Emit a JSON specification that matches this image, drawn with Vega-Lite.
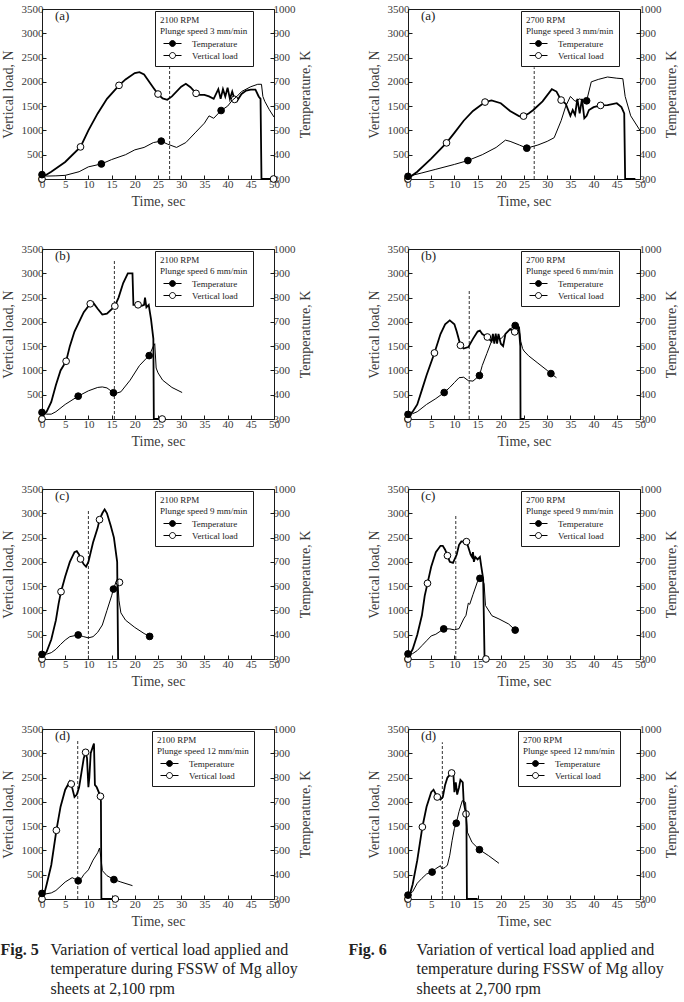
{
"$schema": "https://vega.github.io/schema/vega-lite/v6.json",
"padding": {"top": 2, "left": 0, "right": 0, "bottom": 0},
"datasets": {
"p5a": [
{"k":"D","s":"","t":27.5,"v":0,"v2":2350},
{"k":"L","s":"Vertical load","t":0,"v":0},{"k":"L","s":"Vertical load","t":0.3,"v":50},{"k":"L","s":"Vertical load","t":2,"v":150},{"k":"L","s":"Vertical load","t":5,"v":350},{"k":"L","s":"Vertical load","t":8.3,"v":661},{"k":"L","s":"Vertical load","t":10,"v":1000},{"k":"L","s":"Vertical load","t":12,"v":1350},{"k":"L","s":"Vertical load","t":14,"v":1650},{"k":"L","s":"Vertical load","t":16.6,"v":1928},{"k":"L","s":"Vertical load","t":18,"v":2050},{"k":"L","s":"Vertical load","t":20,"v":2180},{"k":"L","s":"Vertical load","t":21,"v":2200},{"k":"L","s":"Vertical load","t":22,"v":2150},{"k":"L","s":"Vertical load","t":24,"v":1880},{"k":"L","s":"Vertical load","t":25,"v":1749},{"k":"L","s":"Vertical load","t":26,"v":1660},{"k":"L","s":"Vertical load","t":27,"v":1630},{"k":"L","s":"Vertical load","t":28,"v":1700},{"k":"L","s":"Vertical load","t":30,"v":1900},{"k":"L","s":"Vertical load","t":31,"v":1960},{"k":"L","s":"Vertical load","t":32,"v":1890},{"k":"L","s":"Vertical load","t":33.2,"v":1763},{"k":"L","s":"Vertical load","t":34,"v":1730},{"k":"L","s":"Vertical load","t":35,"v":1730},{"k":"L","s":"Vertical load","t":36,"v":1700},{"k":"L","s":"Vertical load","t":37,"v":1650},{"k":"L","s":"Vertical load","t":38,"v":1850},{"k":"L","s":"Vertical load","t":38.5,"v":1650},{"k":"L","s":"Vertical load","t":39,"v":1850},{"k":"L","s":"Vertical load","t":39.5,"v":1700},{"k":"L","s":"Vertical load","t":40,"v":1880},{"k":"L","s":"Vertical load","t":40.5,"v":1650},{"k":"L","s":"Vertical load","t":41,"v":1800},{"k":"L","s":"Vertical load","t":41.5,"v":1639},{"k":"L","s":"Vertical load","t":42,"v":1600},{"k":"L","s":"Vertical load","t":43,"v":1750},{"k":"L","s":"Vertical load","t":44,"v":1820},{"k":"L","s":"Vertical load","t":45,"v":1840},{"k":"L","s":"Vertical load","t":46,"v":1840},{"k":"L","s":"Vertical load","t":46.7,"v":1700},{"k":"L","s":"Vertical load","t":47.1,"v":1650},{"k":"L","s":"Vertical load","t":47.3,"v":0},{"k":"L","s":"Vertical load","t":49.9,"v":0},
{"k":"P","s":"Vertical load","t":0,"v":0},{"k":"P","s":"Vertical load","t":8.3,"v":661},{"k":"P","s":"Vertical load","t":16.6,"v":1928},{"k":"P","s":"Vertical load","t":25,"v":1749},{"k":"P","s":"Vertical load","t":33.2,"v":1763},{"k":"P","s":"Vertical load","t":41.5,"v":1639},{"k":"P","s":"Vertical load","t":49.9,"v":0},
{"k":"L","s":"Temperature","t":0,"v":318},{"k":"L","s":"Temperature","t":1,"v":312},{"k":"L","s":"Temperature","t":3,"v":313},{"k":"L","s":"Temperature","t":5,"v":315},{"k":"L","s":"Temperature","t":8,"v":330},{"k":"L","s":"Temperature","t":10,"v":350},{"k":"L","s":"Temperature","t":12.8,"v":362},{"k":"L","s":"Temperature","t":15,"v":380},{"k":"L","s":"Temperature","t":18,"v":400},{"k":"L","s":"Temperature","t":20,"v":420},{"k":"L","s":"Temperature","t":22,"v":430},{"k":"L","s":"Temperature","t":24,"v":450},{"k":"L","s":"Temperature","t":25.7,"v":456},{"k":"L","s":"Temperature","t":27,"v":444},{"k":"L","s":"Temperature","t":29,"v":430},{"k":"L","s":"Temperature","t":31,"v":450},{"k":"L","s":"Temperature","t":33,"v":490},{"k":"L","s":"Temperature","t":35,"v":530},{"k":"L","s":"Temperature","t":36,"v":560},{"k":"L","s":"Temperature","t":37,"v":550},{"k":"L","s":"Temperature","t":38.6,"v":582},{"k":"L","s":"Temperature","t":40,"v":600},{"k":"L","s":"Temperature","t":41,"v":624},{"k":"L","s":"Temperature","t":42,"v":640},{"k":"L","s":"Temperature","t":43,"v":660},{"k":"L","s":"Temperature","t":45,"v":680},{"k":"L","s":"Temperature","t":46.5,"v":690},{"k":"L","s":"Temperature","t":47.3,"v":690},{"k":"L","s":"Temperature","t":47.6,"v":640},{"k":"L","s":"Temperature","t":48,"v":620},{"k":"L","s":"Temperature","t":49,"v":585},{"k":"L","s":"Temperature","t":50,"v":555},
{"k":"P","s":"Temperature","t":0,"v":318},{"k":"P","s":"Temperature","t":12.8,"v":362},{"k":"P","s":"Temperature","t":25.7,"v":456},{"k":"P","s":"Temperature","t":38.6,"v":582}
],
"p6a": [
{"k":"D","s":"","t":27.2,"v":0,"v2":2300},
{"k":"L","s":"Vertical load","t":0,"v":0},{"k":"L","s":"Vertical load","t":0.3,"v":30},{"k":"L","s":"Vertical load","t":2,"v":150},{"k":"L","s":"Vertical load","t":5,"v":420},{"k":"L","s":"Vertical load","t":8.3,"v":744},{"k":"L","s":"Vertical load","t":10,"v":950},{"k":"L","s":"Vertical load","t":12,"v":1200},{"k":"L","s":"Vertical load","t":14,"v":1400},{"k":"L","s":"Vertical load","t":16.6,"v":1584},{"k":"L","s":"Vertical load","t":18,"v":1620},{"k":"L","s":"Vertical load","t":20,"v":1560},{"k":"L","s":"Vertical load","t":22,"v":1400},{"k":"L","s":"Vertical load","t":24,"v":1290},{"k":"L","s":"Vertical load","t":24.9,"v":1295},{"k":"L","s":"Vertical load","t":26,"v":1350},{"k":"L","s":"Vertical load","t":27,"v":1420},{"k":"L","s":"Vertical load","t":29,"v":1600},{"k":"L","s":"Vertical load","t":31,"v":1850},{"k":"L","s":"Vertical load","t":32,"v":1800},{"k":"L","s":"Vertical load","t":33,"v":1625},{"k":"L","s":"Vertical load","t":34,"v":1550},{"k":"L","s":"Vertical load","t":35,"v":1300},{"k":"L","s":"Vertical load","t":35.5,"v":1420},{"k":"L","s":"Vertical load","t":36,"v":1320},{"k":"L","s":"Vertical load","t":36.5,"v":1650},{"k":"L","s":"Vertical load","t":37,"v":1350},{"k":"L","s":"Vertical load","t":37.5,"v":1650},{"k":"L","s":"Vertical load","t":38,"v":1250},{"k":"L","s":"Vertical load","t":38.5,"v":1300},{"k":"L","s":"Vertical load","t":39,"v":1420},{"k":"L","s":"Vertical load","t":40,"v":1480},{"k":"L","s":"Vertical load","t":41.5,"v":1515},{"k":"L","s":"Vertical load","t":43,"v":1520},{"k":"L","s":"Vertical load","t":45,"v":1560},{"k":"L","s":"Vertical load","t":46,"v":1480},{"k":"L","s":"Vertical load","t":46.6,"v":1350},{"k":"L","s":"Vertical load","t":46.8,"v":0},{"k":"L","s":"Vertical load","t":49,"v":0},
{"k":"P","s":"Vertical load","t":0,"v":0},{"k":"P","s":"Vertical load","t":8.3,"v":744},{"k":"P","s":"Vertical load","t":16.6,"v":1584},{"k":"P","s":"Vertical load","t":24.9,"v":1295},{"k":"P","s":"Vertical load","t":33,"v":1625},{"k":"P","s":"Vertical load","t":41.5,"v":1515},
{"k":"L","s":"Temperature","t":0,"v":311},{"k":"L","s":"Temperature","t":3,"v":325},{"k":"L","s":"Temperature","t":6,"v":340},{"k":"L","s":"Temperature","t":10,"v":360},{"k":"L","s":"Temperature","t":12.9,"v":376},{"k":"L","s":"Temperature","t":16,"v":400},{"k":"L","s":"Temperature","t":19,"v":430},{"k":"L","s":"Temperature","t":21,"v":460},{"k":"L","s":"Temperature","t":22,"v":455},{"k":"L","s":"Temperature","t":24,"v":440},{"k":"L","s":"Temperature","t":25.6,"v":427},{"k":"L","s":"Temperature","t":28,"v":440},{"k":"L","s":"Temperature","t":30,"v":455},{"k":"L","s":"Temperature","t":31.5,"v":470},{"k":"L","s":"Temperature","t":33,"v":540},{"k":"L","s":"Temperature","t":34,"v":600},{"k":"L","s":"Temperature","t":35,"v":640},{"k":"L","s":"Temperature","t":36,"v":620},{"k":"L","s":"Temperature","t":37,"v":630},{"k":"L","s":"Temperature","t":38,"v":620},{"k":"L","s":"Temperature","t":38.5,"v":622},{"k":"L","s":"Temperature","t":39.5,"v":700},{"k":"L","s":"Temperature","t":41,"v":710},{"k":"L","s":"Temperature","t":43,"v":720},{"k":"L","s":"Temperature","t":45,"v":715},{"k":"L","s":"Temperature","t":46.3,"v":713},{"k":"L","s":"Temperature","t":46.8,"v":640},{"k":"L","s":"Temperature","t":48,"v":560},{"k":"L","s":"Temperature","t":50,"v":500},
{"k":"P","s":"Temperature","t":0,"v":311},{"k":"P","s":"Temperature","t":12.9,"v":376},{"k":"P","s":"Temperature","t":25.6,"v":427},{"k":"P","s":"Temperature","t":38.5,"v":622}
],
"p5b": [
{"k":"D","s":"","t":15.6,"v":0,"v2":3294},
{"k":"L","s":"Vertical load","t":0,"v":0},{"k":"L","s":"Vertical load","t":0.3,"v":80},{"k":"L","s":"Vertical load","t":1,"v":150},{"k":"L","s":"Vertical load","t":2,"v":350},{"k":"L","s":"Vertical load","t":3,"v":700},{"k":"L","s":"Vertical load","t":4,"v":1000},{"k":"L","s":"Vertical load","t":5.2,"v":1189},{"k":"L","s":"Vertical load","t":6,"v":1500},{"k":"L","s":"Vertical load","t":7,"v":1800},{"k":"L","s":"Vertical load","t":8,"v":2000},{"k":"L","s":"Vertical load","t":9,"v":2200},{"k":"L","s":"Vertical load","t":10.4,"v":2372},{"k":"L","s":"Vertical load","t":11,"v":2400},{"k":"L","s":"Vertical load","t":12,"v":2270},{"k":"L","s":"Vertical load","t":13,"v":2150},{"k":"L","s":"Vertical load","t":14,"v":2170},{"k":"L","s":"Vertical load","t":15.7,"v":2324},{"k":"L","s":"Vertical load","t":16.5,"v":2500},{"k":"L","s":"Vertical load","t":17.5,"v":2800},{"k":"L","s":"Vertical load","t":18.5,"v":3000},{"k":"L","s":"Vertical load","t":19.5,"v":3000},{"k":"L","s":"Vertical load","t":19.7,"v":2350},{"k":"L","s":"Vertical load","t":20.7,"v":2351},{"k":"L","s":"Vertical load","t":21.5,"v":2330},{"k":"L","s":"Vertical load","t":22,"v":2350},{"k":"L","s":"Vertical load","t":22.2,"v":2500},{"k":"L","s":"Vertical load","t":22.5,"v":2300},{"k":"L","s":"Vertical load","t":23,"v":2350},{"k":"L","s":"Vertical load","t":23.5,"v":2050},{"k":"L","s":"Vertical load","t":24,"v":1650},{"k":"L","s":"Vertical load","t":24.1,"v":0},{"k":"L","s":"Vertical load","t":25.9,"v":0},
{"k":"P","s":"Vertical load","t":0,"v":0},{"k":"P","s":"Vertical load","t":5.2,"v":1189},{"k":"P","s":"Vertical load","t":10.4,"v":2372},{"k":"P","s":"Vertical load","t":15.7,"v":2324},{"k":"P","s":"Vertical load","t":20.7,"v":2351},{"k":"P","s":"Vertical load","t":25.9,"v":0},
{"k":"L","s":"Temperature","t":0,"v":327},{"k":"L","s":"Temperature","t":1,"v":320},{"k":"L","s":"Temperature","t":2,"v":320},{"k":"L","s":"Temperature","t":3,"v":330},{"k":"L","s":"Temperature","t":5,"v":360},{"k":"L","s":"Temperature","t":7.8,"v":394},{"k":"L","s":"Temperature","t":10,"v":416},{"k":"L","s":"Temperature","t":12,"v":430},{"k":"L","s":"Temperature","t":13,"v":432},{"k":"L","s":"Temperature","t":14,"v":428},{"k":"L","s":"Temperature","t":15.4,"v":408},{"k":"L","s":"Temperature","t":16,"v":406},{"k":"L","s":"Temperature","t":17,"v":412},{"k":"L","s":"Temperature","t":19,"v":460},{"k":"L","s":"Temperature","t":21,"v":520},{"k":"L","s":"Temperature","t":22.5,"v":550},{"k":"L","s":"Temperature","t":23.1,"v":561},{"k":"L","s":"Temperature","t":24,"v":600},{"k":"L","s":"Temperature","t":24.3,"v":610},{"k":"L","s":"Temperature","t":24.6,"v":510},{"k":"L","s":"Temperature","t":25,"v":490},{"k":"L","s":"Temperature","t":26,"v":460},{"k":"L","s":"Temperature","t":28,"v":430},{"k":"L","s":"Temperature","t":30.2,"v":409},
{"k":"P","s":"Temperature","t":0,"v":327},{"k":"P","s":"Temperature","t":7.8,"v":394},{"k":"P","s":"Temperature","t":15.4,"v":408},{"k":"P","s":"Temperature","t":23.1,"v":561}
],
"p6b": [
{"k":"D","s":"","t":13.2,"v":0,"v2":2645},
{"k":"L","s":"Vertical load","t":0,"v":0},{"k":"L","s":"Vertical load","t":0.3,"v":80},{"k":"L","s":"Vertical load","t":1,"v":150},{"k":"L","s":"Vertical load","t":2,"v":300},{"k":"L","s":"Vertical load","t":3,"v":600},{"k":"L","s":"Vertical load","t":4,"v":900},{"k":"L","s":"Vertical load","t":5.7,"v":1360},{"k":"L","s":"Vertical load","t":7,"v":1750},{"k":"L","s":"Vertical load","t":8,"v":1950},{"k":"L","s":"Vertical load","t":9,"v":2030},{"k":"L","s":"Vertical load","t":10,"v":1950},{"k":"L","s":"Vertical load","t":10.5,"v":1800},{"k":"L","s":"Vertical load","t":11.3,"v":1517},{"k":"L","s":"Vertical load","t":12,"v":1450},{"k":"L","s":"Vertical load","t":13,"v":1480},{"k":"L","s":"Vertical load","t":14,"v":1650},{"k":"L","s":"Vertical load","t":15,"v":1800},{"k":"L","s":"Vertical load","t":15.5,"v":1820},{"k":"L","s":"Vertical load","t":16,"v":1750},{"k":"L","s":"Vertical load","t":17.1,"v":1688},{"k":"L","s":"Vertical load","t":18,"v":1600},{"k":"L","s":"Vertical load","t":18.3,"v":1750},{"k":"L","s":"Vertical load","t":18.6,"v":1550},{"k":"L","s":"Vertical load","t":18.9,"v":1760},{"k":"L","s":"Vertical load","t":19.2,"v":1550},{"k":"L","s":"Vertical load","t":19.5,"v":1750},{"k":"L","s":"Vertical load","t":20,"v":1550},{"k":"L","s":"Vertical load","t":20.5,"v":1500},{"k":"L","s":"Vertical load","t":21,"v":1750},{"k":"L","s":"Vertical load","t":22,"v":1850},{"k":"L","s":"Vertical load","t":23,"v":1794},{"k":"L","s":"Vertical load","t":23.7,"v":1900},{"k":"L","s":"Vertical load","t":24,"v":1750},{"k":"L","s":"Vertical load","t":24.2,"v":1500},{"k":"L","s":"Vertical load","t":24.25,"v":0},{"k":"L","s":"Vertical load","t":25,"v":0},
{"k":"P","s":"Vertical load","t":0,"v":0},{"k":"P","s":"Vertical load","t":5.7,"v":1360},{"k":"P","s":"Vertical load","t":11.3,"v":1517},{"k":"P","s":"Vertical load","t":17.1,"v":1688},{"k":"P","s":"Vertical load","t":23,"v":1794},
{"k":"L","s":"Temperature","t":0,"v":319},{"k":"L","s":"Temperature","t":1,"v":322},{"k":"L","s":"Temperature","t":2,"v":330},{"k":"L","s":"Temperature","t":4,"v":360},{"k":"L","s":"Temperature","t":6,"v":384},{"k":"L","s":"Temperature","t":7.8,"v":409},{"k":"L","s":"Temperature","t":9,"v":430},{"k":"L","s":"Temperature","t":10,"v":450},{"k":"L","s":"Temperature","t":11,"v":470},{"k":"L","s":"Temperature","t":12,"v":472},{"k":"L","s":"Temperature","t":13,"v":458},{"k":"L","s":"Temperature","t":14,"v":456},{"k":"L","s":"Temperature","t":15.4,"v":479},{"k":"L","s":"Temperature","t":16,"v":520},{"k":"L","s":"Temperature","t":17,"v":570},{"k":"L","s":"Temperature","t":18,"v":620},{"k":"L","s":"Temperature","t":19,"v":640},{"k":"L","s":"Temperature","t":20,"v":630},{"k":"L","s":"Temperature","t":21,"v":650},{"k":"L","s":"Temperature","t":22,"v":670},{"k":"L","s":"Temperature","t":23.1,"v":685},{"k":"L","s":"Temperature","t":24,"v":680},{"k":"L","s":"Temperature","t":24.3,"v":620},{"k":"L","s":"Temperature","t":24.7,"v":590},{"k":"L","s":"Temperature","t":25,"v":580},{"k":"L","s":"Temperature","t":26,"v":560},{"k":"L","s":"Temperature","t":28,"v":530},{"k":"L","s":"Temperature","t":30,"v":500},{"k":"L","s":"Temperature","t":30.8,"v":487},{"k":"L","s":"Temperature","t":32,"v":470},
{"k":"P","s":"Temperature","t":0,"v":319},{"k":"P","s":"Temperature","t":7.8,"v":409},{"k":"P","s":"Temperature","t":15.4,"v":479},{"k":"P","s":"Temperature","t":23.1,"v":685},{"k":"P","s":"Temperature","t":30.8,"v":487}
],
"p5c": [
{"k":"D","s":"","t":10,"v":0,"v2":3054},
{"k":"L","s":"Vertical load","t":0,"v":0},{"k":"L","s":"Vertical load","t":0.3,"v":60},{"k":"L","s":"Vertical load","t":1,"v":150},{"k":"L","s":"Vertical load","t":2,"v":400},{"k":"L","s":"Vertical load","t":3,"v":800},{"k":"L","s":"Vertical load","t":3.6,"v":1150},{"k":"L","s":"Vertical load","t":4.1,"v":1386},{"k":"L","s":"Vertical load","t":5,"v":1700},{"k":"L","s":"Vertical load","t":6,"v":2000},{"k":"L","s":"Vertical load","t":7,"v":2200},{"k":"L","s":"Vertical load","t":7.5,"v":2220},{"k":"L","s":"Vertical load","t":8,"v":2150},{"k":"L","s":"Vertical load","t":8.3,"v":2059},{"k":"L","s":"Vertical load","t":9,"v":1950},{"k":"L","s":"Vertical load","t":9.5,"v":1900},{"k":"L","s":"Vertical load","t":10,"v":2000},{"k":"L","s":"Vertical load","t":11,"v":2400},{"k":"L","s":"Vertical load","t":12,"v":2700},{"k":"L","s":"Vertical load","t":12.4,"v":2869},{"k":"L","s":"Vertical load","t":13,"v":3000},{"k":"L","s":"Vertical load","t":13.5,"v":3080},{"k":"L","s":"Vertical load","t":14,"v":3000},{"k":"L","s":"Vertical load","t":14.8,"v":2750},{"k":"L","s":"Vertical load","t":15.5,"v":2500},{"k":"L","s":"Vertical load","t":16.2,"v":2000},{"k":"L","s":"Vertical load","t":16.4,"v":0},
{"k":"P","s":"Vertical load","t":0,"v":0},{"k":"P","s":"Vertical load","t":4.1,"v":1386},{"k":"P","s":"Vertical load","t":8.3,"v":2059},{"k":"P","s":"Vertical load","t":12.4,"v":2869},{"k":"P","s":"Vertical load","t":16.7,"v":1578},
{"k":"L","s":"Temperature","t":0,"v":319},{"k":"L","s":"Temperature","t":1,"v":320},{"k":"L","s":"Temperature","t":2,"v":326},{"k":"L","s":"Temperature","t":3,"v":340},{"k":"L","s":"Temperature","t":4,"v":360},{"k":"L","s":"Temperature","t":5,"v":378},{"k":"L","s":"Temperature","t":6,"v":392},{"k":"L","s":"Temperature","t":7.8,"v":399},{"k":"L","s":"Temperature","t":9,"v":392},{"k":"L","s":"Temperature","t":10,"v":387},{"k":"L","s":"Temperature","t":11,"v":392},{"k":"L","s":"Temperature","t":12,"v":410},{"k":"L","s":"Temperature","t":13,"v":440},{"k":"L","s":"Temperature","t":14,"v":500},{"k":"L","s":"Temperature","t":15,"v":560},{"k":"L","s":"Temperature","t":15.4,"v":588},{"k":"L","s":"Temperature","t":16,"v":620},{"k":"L","s":"Temperature","t":16.3,"v":630},{"k":"L","s":"Temperature","t":16.6,"v":540},{"k":"L","s":"Temperature","t":17,"v":490},{"k":"L","s":"Temperature","t":18,"v":460},{"k":"L","s":"Temperature","t":20,"v":430},{"k":"L","s":"Temperature","t":22,"v":405},{"k":"L","s":"Temperature","t":23.2,"v":393},
{"k":"P","s":"Temperature","t":0,"v":319},{"k":"P","s":"Temperature","t":7.8,"v":399},{"k":"P","s":"Temperature","t":15.4,"v":588},{"k":"P","s":"Temperature","t":23.2,"v":393}
],
"p6c": [
{"k":"D","s":"","t":10.3,"v":0,"v2":2951},
{"k":"L","s":"Vertical load","t":0,"v":0},{"k":"L","s":"Vertical load","t":0.3,"v":80},{"k":"L","s":"Vertical load","t":1,"v":200},{"k":"L","s":"Vertical load","t":2,"v":500},{"k":"L","s":"Vertical load","t":3,"v":900},{"k":"L","s":"Vertical load","t":3.6,"v":1300},{"k":"L","s":"Vertical load","t":4.2,"v":1558},{"k":"L","s":"Vertical load","t":5,"v":1900},{"k":"L","s":"Vertical load","t":6,"v":2200},{"k":"L","s":"Vertical load","t":7,"v":2330},{"k":"L","s":"Vertical load","t":7.5,"v":2330},{"k":"L","s":"Vertical load","t":8,"v":2250},{"k":"L","s":"Vertical load","t":8.5,"v":2128},{"k":"L","s":"Vertical load","t":9,"v":2000},{"k":"L","s":"Vertical load","t":9.7,"v":1980},{"k":"L","s":"Vertical load","t":10.5,"v":2150},{"k":"L","s":"Vertical load","t":11,"v":2350},{"k":"L","s":"Vertical load","t":11.5,"v":2420},{"k":"L","s":"Vertical load","t":12.6,"v":2416},{"k":"L","s":"Vertical load","t":13,"v":2300},{"k":"L","s":"Vertical load","t":13.5,"v":2150},{"k":"L","s":"Vertical load","t":13.8,"v":2100},{"k":"L","s":"Vertical load","t":14,"v":2200},{"k":"L","s":"Vertical load","t":14.2,"v":2000},{"k":"L","s":"Vertical load","t":14.5,"v":2100},{"k":"L","s":"Vertical load","t":15,"v":2050},{"k":"L","s":"Vertical load","t":15.5,"v":2100},{"k":"L","s":"Vertical load","t":15.8,"v":1900},{"k":"L","s":"Vertical load","t":16.2,"v":1650},{"k":"L","s":"Vertical load","t":16.5,"v":0},{"k":"L","s":"Vertical load","t":16.8,"v":0},
{"k":"P","s":"Vertical load","t":0,"v":0},{"k":"P","s":"Vertical load","t":4.2,"v":1558},{"k":"P","s":"Vertical load","t":8.5,"v":2128},{"k":"P","s":"Vertical load","t":12.6,"v":2416},{"k":"P","s":"Vertical load","t":16.8,"v":0},
{"k":"L","s":"Temperature","t":0,"v":321},{"k":"L","s":"Temperature","t":1,"v":322},{"k":"L","s":"Temperature","t":2,"v":335},{"k":"L","s":"Temperature","t":3,"v":355},{"k":"L","s":"Temperature","t":4,"v":375},{"k":"L","s":"Temperature","t":5,"v":395},{"k":"L","s":"Temperature","t":6,"v":402},{"k":"L","s":"Temperature","t":7.7,"v":424},{"k":"L","s":"Temperature","t":9,"v":424},{"k":"L","s":"Temperature","t":10,"v":420},{"k":"L","s":"Temperature","t":11,"v":425},{"k":"L","s":"Temperature","t":12,"v":465},{"k":"L","s":"Temperature","t":12.5,"v":480},{"k":"L","s":"Temperature","t":13,"v":530},{"k":"L","s":"Temperature","t":13.3,"v":525},{"k":"L","s":"Temperature","t":14,"v":565},{"k":"L","s":"Temperature","t":15,"v":620},{"k":"L","s":"Temperature","t":15.5,"v":632},{"k":"L","s":"Temperature","t":16,"v":630},{"k":"L","s":"Temperature","t":16.4,"v":610},{"k":"L","s":"Temperature","t":16.7,"v":520},{"k":"L","s":"Temperature","t":18.1,"v":478},{"k":"L","s":"Temperature","t":19.6,"v":465},{"k":"L","s":"Temperature","t":21.7,"v":444},{"k":"L","s":"Temperature","t":23.1,"v":419},
{"k":"P","s":"Temperature","t":0,"v":321},{"k":"P","s":"Temperature","t":7.7,"v":424},{"k":"P","s":"Temperature","t":15.5,"v":632},{"k":"P","s":"Temperature","t":23.1,"v":419}
],
"p5d": [
{"k":"D","s":"","t":7.7,"v":0,"v2":3260},
{"k":"L","s":"Vertical load","t":0,"v":0},{"k":"L","s":"Vertical load","t":0.3,"v":80},{"k":"L","s":"Vertical load","t":0.6,"v":150},{"k":"L","s":"Vertical load","t":1,"v":300},{"k":"L","s":"Vertical load","t":2,"v":700},{"k":"L","s":"Vertical load","t":3.1,"v":1414},{"k":"L","s":"Vertical load","t":4,"v":1900},{"k":"L","s":"Vertical load","t":5,"v":2250},{"k":"L","s":"Vertical load","t":6,"v":2420},{"k":"L","s":"Vertical load","t":6.3,"v":2368},{"k":"L","s":"Vertical load","t":7,"v":2100},{"k":"L","s":"Vertical load","t":7.5,"v":2150},{"k":"L","s":"Vertical load","t":8,"v":2300},{"k":"L","s":"Vertical load","t":8.5,"v":2600},{"k":"L","s":"Vertical load","t":9,"v":2900},{"k":"L","s":"Vertical load","t":9.4,"v":3020},{"k":"L","s":"Vertical load","t":9.7,"v":2900},{"k":"L","s":"Vertical load","t":10,"v":2300},{"k":"L","s":"Vertical load","t":10.2,"v":2500},{"k":"L","s":"Vertical load","t":10.5,"v":3000},{"k":"L","s":"Vertical load","t":11,"v":3150},{"k":"L","s":"Vertical load","t":11.2,"v":3200},{"k":"L","s":"Vertical load","t":11.4,"v":2350},{"k":"L","s":"Vertical load","t":11.8,"v":2300},{"k":"L","s":"Vertical load","t":12.6,"v":2114},{"k":"L","s":"Vertical load","t":12.7,"v":2000},{"k":"L","s":"Vertical load","t":12.8,"v":0},{"k":"L","s":"Vertical load","t":15.8,"v":0},
{"k":"P","s":"Vertical load","t":0,"v":0},{"k":"P","s":"Vertical load","t":3.1,"v":1414},{"k":"P","s":"Vertical load","t":6.3,"v":2368},{"k":"P","s":"Vertical load","t":9.4,"v":3020},{"k":"P","s":"Vertical load","t":12.6,"v":2114},{"k":"P","s":"Vertical load","t":15.8,"v":0},
{"k":"L","s":"Temperature","t":0,"v":323},{"k":"L","s":"Temperature","t":0.5,"v":320},{"k":"L","s":"Temperature","t":2,"v":325},{"k":"L","s":"Temperature","t":3,"v":335},{"k":"L","s":"Temperature","t":5,"v":370},{"k":"L","s":"Temperature","t":6.5,"v":388},{"k":"L","s":"Temperature","t":7.8,"v":375},{"k":"L","s":"Temperature","t":8.5,"v":385},{"k":"L","s":"Temperature","t":9,"v":400},{"k":"L","s":"Temperature","t":10,"v":420},{"k":"L","s":"Temperature","t":11,"v":460},{"k":"L","s":"Temperature","t":12,"v":490},{"k":"L","s":"Temperature","t":12.4,"v":510},{"k":"L","s":"Temperature","t":12.7,"v":470},{"k":"L","s":"Temperature","t":13,"v":417},{"k":"L","s":"Temperature","t":14,"v":396},{"k":"L","s":"Temperature","t":15.5,"v":380},{"k":"L","s":"Temperature","t":17,"v":370},{"k":"L","s":"Temperature","t":19.5,"v":355},
{"k":"P","s":"Temperature","t":0,"v":323},{"k":"P","s":"Temperature","t":7.8,"v":375},{"k":"P","s":"Temperature","t":15.5,"v":380}
],
"p6d": [
{"k":"D","s":"","t":7.4,"v":0,"v2":3227},
{"k":"L","s":"Vertical load","t":0,"v":0},{"k":"L","s":"Vertical load","t":0.3,"v":60},{"k":"L","s":"Vertical load","t":1,"v":300},{"k":"L","s":"Vertical load","t":2,"v":800},{"k":"L","s":"Vertical load","t":3.1,"v":1483},{"k":"L","s":"Vertical load","t":4,"v":1900},{"k":"L","s":"Vertical load","t":5,"v":2200},{"k":"L","s":"Vertical load","t":5.5,"v":2250},{"k":"L","s":"Vertical load","t":6.3,"v":2100},{"k":"L","s":"Vertical load","t":7,"v":2050},{"k":"L","s":"Vertical load","t":7.5,"v":2100},{"k":"L","s":"Vertical load","t":8,"v":2350},{"k":"L","s":"Vertical load","t":8.5,"v":2500},{"k":"L","s":"Vertical load","t":9.4,"v":2595},{"k":"L","s":"Vertical load","t":9.8,"v":2550},{"k":"L","s":"Vertical load","t":10,"v":2200},{"k":"L","s":"Vertical load","t":10.3,"v":2400},{"k":"L","s":"Vertical load","t":10.6,"v":2150},{"k":"L","s":"Vertical load","t":11,"v":2300},{"k":"L","s":"Vertical load","t":11.3,"v":2450},{"k":"L","s":"Vertical load","t":11.8,"v":2400},{"k":"L","s":"Vertical load","t":12,"v":2000},{"k":"L","s":"Vertical load","t":12.5,"v":1750},{"k":"L","s":"Vertical load","t":12.6,"v":1500},{"k":"L","s":"Vertical load","t":12.7,"v":0},{"k":"L","s":"Vertical load","t":15,"v":0},
{"k":"P","s":"Vertical load","t":0,"v":0},{"k":"P","s":"Vertical load","t":3.1,"v":1483},{"k":"P","s":"Vertical load","t":6.3,"v":2100},{"k":"P","s":"Vertical load","t":9.4,"v":2595},{"k":"P","s":"Vertical load","t":12.5,"v":1750},
{"k":"L","s":"Temperature","t":0,"v":316},{"k":"L","s":"Temperature","t":1,"v":330},{"k":"L","s":"Temperature","t":2,"v":365},{"k":"L","s":"Temperature","t":3,"v":385},{"k":"L","s":"Temperature","t":4,"v":403},{"k":"L","s":"Temperature","t":5.2,"v":411},{"k":"L","s":"Temperature","t":6,"v":425},{"k":"L","s":"Temperature","t":7,"v":437},{"k":"L","s":"Temperature","t":7.3,"v":424},{"k":"L","s":"Temperature","t":8,"v":430},{"k":"L","s":"Temperature","t":8.5,"v":440},{"k":"L","s":"Temperature","t":9,"v":480},{"k":"L","s":"Temperature","t":9.5,"v":540},{"k":"L","s":"Temperature","t":10,"v":590},{"k":"L","s":"Temperature","t":10.4,"v":612},{"k":"L","s":"Temperature","t":11,"v":660},{"k":"L","s":"Temperature","t":11.7,"v":705},{"k":"L","s":"Temperature","t":12.4,"v":698},{"k":"L","s":"Temperature","t":12.8,"v":575},{"k":"L","s":"Temperature","t":13.8,"v":533},{"k":"L","s":"Temperature","t":15.4,"v":503},{"k":"L","s":"Temperature","t":17.4,"v":478},{"k":"L","s":"Temperature","t":19.6,"v":447},
{"k":"P","s":"Temperature","t":0,"v":316},{"k":"P","s":"Temperature","t":5.2,"v":411},{"k":"P","s":"Temperature","t":10.4,"v":612},{"k":"P","s":"Temperature","t":15.4,"v":503}
]
},
"hconcat": [
{
"vconcat": [
{"width":232,"height":170,"data":{"name":"p5a"},
"title":{"text":"(a)","orient":"top","anchor":"start","frame":"group","offset":-20,"dx":13,"fontSize":13},
"encoding":{"x":{"field":"t","type":"quantitative","scale":{"domain":[0,50],"nice":false},"axis":{"title":"Time, sec","values":[0,5,10,15,20,25,30,35,40,45,50],"labelFlush":false,"labelOverlap":false,"titlePadding":5}}},
"layer":[
{"encoding":{"y":{"field":"v","type":"quantitative","scale":{"domain":[0,3500],"nice":false},"axis":{"title":"Vertical load, N","format":"d","values":[0,500,1000,1500,2000,2500,3000,3500],"labelFlush":false,"labelOverlap":false,"titlePadding":6}}},
"layer":[
{"transform":[{"filter":"datum.k=='D'"}],"mark":{"type":"rule","strokeDash":[3,2],"strokeWidth":1,"color":"#333"},"encoding":{"y2":{"field":"v2"}}},
{"transform":[{"filter":"datum.k=='L' && datum.s=='Vertical load'"}],"mark":{"type":"line","color":"black","strokeWidth":1.8}},
{"transform":[{"filter":"datum.k=='P' && datum.s=='Vertical load'"}],"mark":{"type":"circle","size":45,"stroke":"black","strokeWidth":1,"opacity":1},"encoding":{"fill":{"field":"s","type":"nominal","scale":{"domain":["Temperature","Vertical load"],"range":["black","white"]},"legend":{"title":["2100 RPM","Plunge speed 3 mm/min"],"orient":"none","legendX":113,"legendY":2,"symbolType":"M-1.8,0L-0.6,0M0.6,0L1.8,0M-0.6,0A0.6,0.6,0,1,0,0.6,0A0.6,0.6,0,1,0,-0.6,0Z","symbolOpacity":1}}}}
]},
{"encoding":{"y":{"field":"v","type":"quantitative","scale":{"domain":[300,1000],"nice":false},"axis":{"title":"Temperature, K","format":"d","orient":"right","values":[300,400,500,600,700,800,900,1000],"labelFlush":false,"labelOverlap":false,"titleAngle":270,"titleBaseline":"top","titlePadding":3}}},
"layer":[
{"transform":[{"filter":"datum.k=='L' && datum.s=='Temperature'"}],"mark":{"type":"line","color":"black","strokeWidth":1}},
{"transform":[{"filter":"datum.k=='P' && datum.s=='Temperature'"}],"mark":{"type":"circle","size":45,"stroke":"black","strokeWidth":1,"opacity":1},"encoding":{"fill":{"field":"s","type":"nominal","scale":{"domain":["Temperature","Vertical load"],"range":["black","white"]},"legend":{"title":["2100 RPM","Plunge speed 3 mm/min"],"orient":"none","legendX":113,"legendY":2,"symbolType":"M-1.8,0L-0.6,0M0.6,0L1.8,0M-0.6,0A0.6,0.6,0,1,0,0.6,0A0.6,0.6,0,1,0,-0.6,0Z","symbolOpacity":1}}}}
]}
],
"resolve":{"scale":{"y":"independent"}}
},
{"width":232,"height":170,"data":{"name":"p5b"},
"title":{"text":"(b)","orient":"top","anchor":"start","frame":"group","offset":-20,"dx":13,"fontSize":13},
"encoding":{"x":{"field":"t","type":"quantitative","scale":{"domain":[0,50],"nice":false},"axis":{"title":"Time, sec","values":[0,5,10,15,20,25,30,35,40,45,50],"labelFlush":false,"labelOverlap":false,"titlePadding":5}}},
"layer":[
{"encoding":{"y":{"field":"v","type":"quantitative","scale":{"domain":[0,3500],"nice":false},"axis":{"title":"Vertical load, N","format":"d","values":[0,500,1000,1500,2000,2500,3000,3500],"labelFlush":false,"labelOverlap":false,"titlePadding":6}}},
"layer":[
{"transform":[{"filter":"datum.k=='D'"}],"mark":{"type":"rule","strokeDash":[3,2],"strokeWidth":1,"color":"#333"},"encoding":{"y2":{"field":"v2"}}},
{"transform":[{"filter":"datum.k=='L' && datum.s=='Vertical load'"}],"mark":{"type":"line","color":"black","strokeWidth":1.8}},
{"transform":[{"filter":"datum.k=='P' && datum.s=='Vertical load'"}],"mark":{"type":"circle","size":45,"stroke":"black","strokeWidth":1,"opacity":1},"encoding":{"fill":{"field":"s","type":"nominal","scale":{"domain":["Temperature","Vertical load"],"range":["black","white"]},"legend":{"title":["2100 RPM","Plunge speed 6 mm/min"],"orient":"none","legendX":113,"legendY":2,"symbolType":"M-1.8,0L-0.6,0M0.6,0L1.8,0M-0.6,0A0.6,0.6,0,1,0,0.6,0A0.6,0.6,0,1,0,-0.6,0Z","symbolOpacity":1}}}}
]},
{"encoding":{"y":{"field":"v","type":"quantitative","scale":{"domain":[300,1000],"nice":false},"axis":{"title":"Temperature, K","format":"d","orient":"right","values":[300,400,500,600,700,800,900,1000],"labelFlush":false,"labelOverlap":false,"titleAngle":270,"titleBaseline":"top","titlePadding":3}}},
"layer":[
{"transform":[{"filter":"datum.k=='L' && datum.s=='Temperature'"}],"mark":{"type":"line","color":"black","strokeWidth":1}},
{"transform":[{"filter":"datum.k=='P' && datum.s=='Temperature'"}],"mark":{"type":"circle","size":45,"stroke":"black","strokeWidth":1,"opacity":1},"encoding":{"fill":{"field":"s","type":"nominal","scale":{"domain":["Temperature","Vertical load"],"range":["black","white"]},"legend":{"title":["2100 RPM","Plunge speed 6 mm/min"],"orient":"none","legendX":113,"legendY":2,"symbolType":"M-1.8,0L-0.6,0M0.6,0L1.8,0M-0.6,0A0.6,0.6,0,1,0,0.6,0A0.6,0.6,0,1,0,-0.6,0Z","symbolOpacity":1}}}}
]}
],
"resolve":{"scale":{"y":"independent"}}
},
{"width":232,"height":170,"data":{"name":"p5c"},
"title":{"text":"(c)","orient":"top","anchor":"start","frame":"group","offset":-20,"dx":13,"fontSize":13},
"encoding":{"x":{"field":"t","type":"quantitative","scale":{"domain":[0,50],"nice":false},"axis":{"title":"Time, sec","values":[0,5,10,15,20,25,30,35,40,45,50],"labelFlush":false,"labelOverlap":false,"titlePadding":5}}},
"layer":[
{"encoding":{"y":{"field":"v","type":"quantitative","scale":{"domain":[0,3500],"nice":false},"axis":{"title":"Vertical load, N","format":"d","values":[0,500,1000,1500,2000,2500,3000,3500],"labelFlush":false,"labelOverlap":false,"titlePadding":6}}},
"layer":[
{"transform":[{"filter":"datum.k=='D'"}],"mark":{"type":"rule","strokeDash":[3,2],"strokeWidth":1,"color":"#333"},"encoding":{"y2":{"field":"v2"}}},
{"transform":[{"filter":"datum.k=='L' && datum.s=='Vertical load'"}],"mark":{"type":"line","color":"black","strokeWidth":1.8}},
{"transform":[{"filter":"datum.k=='P' && datum.s=='Vertical load'"}],"mark":{"type":"circle","size":45,"stroke":"black","strokeWidth":1,"opacity":1},"encoding":{"fill":{"field":"s","type":"nominal","scale":{"domain":["Temperature","Vertical load"],"range":["black","white"]},"legend":{"title":["2100 RPM","Plunge speed 9 mm/min"],"orient":"none","legendX":113,"legendY":2,"symbolType":"M-1.8,0L-0.6,0M0.6,0L1.8,0M-0.6,0A0.6,0.6,0,1,0,0.6,0A0.6,0.6,0,1,0,-0.6,0Z","symbolOpacity":1}}}}
]},
{"encoding":{"y":{"field":"v","type":"quantitative","scale":{"domain":[300,1000],"nice":false},"axis":{"title":"Temperature, K","format":"d","orient":"right","values":[300,400,500,600,700,800,900,1000],"labelFlush":false,"labelOverlap":false,"titleAngle":270,"titleBaseline":"top","titlePadding":3}}},
"layer":[
{"transform":[{"filter":"datum.k=='L' && datum.s=='Temperature'"}],"mark":{"type":"line","color":"black","strokeWidth":1}},
{"transform":[{"filter":"datum.k=='P' && datum.s=='Temperature'"}],"mark":{"type":"circle","size":45,"stroke":"black","strokeWidth":1,"opacity":1},"encoding":{"fill":{"field":"s","type":"nominal","scale":{"domain":["Temperature","Vertical load"],"range":["black","white"]},"legend":{"title":["2100 RPM","Plunge speed 9 mm/min"],"orient":"none","legendX":113,"legendY":2,"symbolType":"M-1.8,0L-0.6,0M0.6,0L1.8,0M-0.6,0A0.6,0.6,0,1,0,0.6,0A0.6,0.6,0,1,0,-0.6,0Z","symbolOpacity":1}}}}
]}
],
"resolve":{"scale":{"y":"independent"}}
},
{"vconcat":[
{"width":232,"height":170,"data":{"name":"p5d"},
"title":{"text":"(d)","orient":"top","anchor":"start","frame":"group","offset":-20,"dx":13,"fontSize":13},
"encoding":{"x":{"field":"t","type":"quantitative","scale":{"domain":[0,50],"nice":false},"axis":{"title":"Time, sec","values":[0,5,10,15,20,25,30,35,40,45,50],"labelFlush":false,"labelOverlap":false,"titlePadding":5}}},
"layer":[
{"encoding":{"y":{"field":"v","type":"quantitative","scale":{"domain":[0,3500],"nice":false},"axis":{"title":"Vertical load, N","format":"d","values":[0,500,1000,1500,2000,2500,3000,3500],"labelFlush":false,"labelOverlap":false,"titlePadding":6}}},
"layer":[
{"transform":[{"filter":"datum.k=='D'"}],"mark":{"type":"rule","strokeDash":[3,2],"strokeWidth":1,"color":"#333"},"encoding":{"y2":{"field":"v2"}}},
{"transform":[{"filter":"datum.k=='L' && datum.s=='Vertical load'"}],"mark":{"type":"line","color":"black","strokeWidth":1.8}},
{"transform":[{"filter":"datum.k=='P' && datum.s=='Vertical load'"}],"mark":{"type":"circle","size":45,"stroke":"black","strokeWidth":1,"opacity":1},"encoding":{"fill":{"field":"s","type":"nominal","scale":{"domain":["Temperature","Vertical load"],"range":["black","white"]},"legend":{"title":["2100 RPM","Plunge speed 12 mm/min"],"orient":"none","legendX":110,"legendY":2,"symbolType":"M-1.8,0L-0.6,0M0.6,0L1.8,0M-0.6,0A0.6,0.6,0,1,0,0.6,0A0.6,0.6,0,1,0,-0.6,0Z","symbolOpacity":1}}}}
]},
{"encoding":{"y":{"field":"v","type":"quantitative","scale":{"domain":[300,1000],"nice":false},"axis":{"title":"Temperature, K","format":"d","orient":"right","values":[300,400,500,600,700,800,900,1000],"labelFlush":false,"labelOverlap":false,"titleAngle":270,"titleBaseline":"top","titlePadding":3}}},
"layer":[
{"transform":[{"filter":"datum.k=='L' && datum.s=='Temperature'"}],"mark":{"type":"line","color":"black","strokeWidth":1}},
{"transform":[{"filter":"datum.k=='P' && datum.s=='Temperature'"}],"mark":{"type":"circle","size":45,"stroke":"black","strokeWidth":1,"opacity":1},"encoding":{"fill":{"field":"s","type":"nominal","scale":{"domain":["Temperature","Vertical load"],"range":["black","white"]},"legend":{"title":["2100 RPM","Plunge speed 12 mm/min"],"orient":"none","legendX":110,"legendY":2,"symbolType":"M-1.8,0L-0.6,0M0.6,0L1.8,0M-0.6,0A0.6,0.6,0,1,0,0.6,0A0.6,0.6,0,1,0,-0.6,0Z","symbolOpacity":1}}}}
]}
],
"resolve":{"scale":{"y":"independent"}}
}
],
"title":{"text":["Variation of vertical load applied and","temperature during FSSW of Mg alloy","sheets at 2,100 rpm"],"orient":"bottom","anchor":"start","dx":50,"offset":13,"fontSize":16,"lineHeight":19.5,"fontWeight":"normal","color":"#222"},
"resolve":{"scale":{"fill":"independent"},"legend":{"fill":"independent"}}
}
],
"spacing":70,
"bounds":"flush",
"title":{"text":"Fig. 5","orient":"bottom","anchor":"start","dx":0,"offset":-55,"fontSize":16,"fontWeight":"bold","color":"#222"},
"resolve":{"scale":{"fill":"independent"},"legend":{"fill":"independent"}}
},
{
"vconcat": [
{"width":232,"height":170,"data":{"name":"p6a"},
"title":{"text":"(a)","orient":"top","anchor":"start","frame":"group","offset":-20,"dx":13,"fontSize":13},
"encoding":{"x":{"field":"t","type":"quantitative","scale":{"domain":[0,50],"nice":false},"axis":{"title":"Time, sec","values":[0,5,10,15,20,25,30,35,40,45,50],"labelFlush":false,"labelOverlap":false,"titlePadding":5}}},
"layer":[
{"encoding":{"y":{"field":"v","type":"quantitative","scale":{"domain":[0,3500],"nice":false},"axis":{"title":"Vertical load, N","format":"d","values":[0,500,1000,1500,2000,2500,3000,3500],"labelFlush":false,"labelOverlap":false,"titlePadding":6}}},
"layer":[
{"transform":[{"filter":"datum.k=='D'"}],"mark":{"type":"rule","strokeDash":[3,2],"strokeWidth":1,"color":"#333"},"encoding":{"y2":{"field":"v2"}}},
{"transform":[{"filter":"datum.k=='L' && datum.s=='Vertical load'"}],"mark":{"type":"line","color":"black","strokeWidth":1.8}},
{"transform":[{"filter":"datum.k=='P' && datum.s=='Vertical load'"}],"mark":{"type":"circle","size":45,"stroke":"black","strokeWidth":1,"opacity":1},"encoding":{"fill":{"field":"s","type":"nominal","scale":{"domain":["Temperature","Vertical load"],"range":["black","white"]},"legend":{"title":["2700 RPM","Plunge speed 3 mm/min"],"orient":"none","legendX":113,"legendY":2,"symbolType":"M-1.8,0L-0.6,0M0.6,0L1.8,0M-0.6,0A0.6,0.6,0,1,0,0.6,0A0.6,0.6,0,1,0,-0.6,0Z","symbolOpacity":1}}}}
]},
{"encoding":{"y":{"field":"v","type":"quantitative","scale":{"domain":[300,1000],"nice":false},"axis":{"title":"Temperature, K","format":"d","orient":"right","values":[300,400,500,600,700,800,900,1000],"labelFlush":false,"labelOverlap":false,"titleAngle":270,"titleBaseline":"top","titlePadding":3}}},
"layer":[
{"transform":[{"filter":"datum.k=='L' && datum.s=='Temperature'"}],"mark":{"type":"line","color":"black","strokeWidth":1}},
{"transform":[{"filter":"datum.k=='P' && datum.s=='Temperature'"}],"mark":{"type":"circle","size":45,"stroke":"black","strokeWidth":1,"opacity":1},"encoding":{"fill":{"field":"s","type":"nominal","scale":{"domain":["Temperature","Vertical load"],"range":["black","white"]},"legend":{"title":["2700 RPM","Plunge speed 3 mm/min"],"orient":"none","legendX":113,"legendY":2,"symbolType":"M-1.8,0L-0.6,0M0.6,0L1.8,0M-0.6,0A0.6,0.6,0,1,0,0.6,0A0.6,0.6,0,1,0,-0.6,0Z","symbolOpacity":1}}}}
]}
],
"resolve":{"scale":{"y":"independent"}}
},
{"width":232,"height":170,"data":{"name":"p6b"},
"title":{"text":"(b)","orient":"top","anchor":"start","frame":"group","offset":-20,"dx":13,"fontSize":13},
"encoding":{"x":{"field":"t","type":"quantitative","scale":{"domain":[0,50],"nice":false},"axis":{"title":"Time, sec","values":[0,5,10,15,20,25,30,35,40,45,50],"labelFlush":false,"labelOverlap":false,"titlePadding":5}}},
"layer":[
{"encoding":{"y":{"field":"v","type":"quantitative","scale":{"domain":[0,3500],"nice":false},"axis":{"title":"Vertical load, N","format":"d","values":[0,500,1000,1500,2000,2500,3000,3500],"labelFlush":false,"labelOverlap":false,"titlePadding":6}}},
"layer":[
{"transform":[{"filter":"datum.k=='D'"}],"mark":{"type":"rule","strokeDash":[3,2],"strokeWidth":1,"color":"#333"},"encoding":{"y2":{"field":"v2"}}},
{"transform":[{"filter":"datum.k=='L' && datum.s=='Vertical load'"}],"mark":{"type":"line","color":"black","strokeWidth":1.8}},
{"transform":[{"filter":"datum.k=='P' && datum.s=='Vertical load'"}],"mark":{"type":"circle","size":45,"stroke":"black","strokeWidth":1,"opacity":1},"encoding":{"fill":{"field":"s","type":"nominal","scale":{"domain":["Temperature","Vertical load"],"range":["black","white"]},"legend":{"title":["2700 RPM","Plunge speed 6 mm/min"],"orient":"none","legendX":113,"legendY":2,"symbolType":"M-1.8,0L-0.6,0M0.6,0L1.8,0M-0.6,0A0.6,0.6,0,1,0,0.6,0A0.6,0.6,0,1,0,-0.6,0Z","symbolOpacity":1}}}}
]},
{"encoding":{"y":{"field":"v","type":"quantitative","scale":{"domain":[300,1000],"nice":false},"axis":{"title":"Temperature, K","format":"d","orient":"right","values":[300,400,500,600,700,800,900,1000],"labelFlush":false,"labelOverlap":false,"titleAngle":270,"titleBaseline":"top","titlePadding":3}}},
"layer":[
{"transform":[{"filter":"datum.k=='L' && datum.s=='Temperature'"}],"mark":{"type":"line","color":"black","strokeWidth":1}},
{"transform":[{"filter":"datum.k=='P' && datum.s=='Temperature'"}],"mark":{"type":"circle","size":45,"stroke":"black","strokeWidth":1,"opacity":1},"encoding":{"fill":{"field":"s","type":"nominal","scale":{"domain":["Temperature","Vertical load"],"range":["black","white"]},"legend":{"title":["2700 RPM","Plunge speed 6 mm/min"],"orient":"none","legendX":113,"legendY":2,"symbolType":"M-1.8,0L-0.6,0M0.6,0L1.8,0M-0.6,0A0.6,0.6,0,1,0,0.6,0A0.6,0.6,0,1,0,-0.6,0Z","symbolOpacity":1}}}}
]}
],
"resolve":{"scale":{"y":"independent"}}
},
{"width":232,"height":170,"data":{"name":"p6c"},
"title":{"text":"(c)","orient":"top","anchor":"start","frame":"group","offset":-20,"dx":13,"fontSize":13},
"encoding":{"x":{"field":"t","type":"quantitative","scale":{"domain":[0,50],"nice":false},"axis":{"title":"Time, sec","values":[0,5,10,15,20,25,30,35,40,45,50],"labelFlush":false,"labelOverlap":false,"titlePadding":5}}},
"layer":[
{"encoding":{"y":{"field":"v","type":"quantitative","scale":{"domain":[0,3500],"nice":false},"axis":{"title":"Vertical load, N","format":"d","values":[0,500,1000,1500,2000,2500,3000,3500],"labelFlush":false,"labelOverlap":false,"titlePadding":6}}},
"layer":[
{"transform":[{"filter":"datum.k=='D'"}],"mark":{"type":"rule","strokeDash":[3,2],"strokeWidth":1,"color":"#333"},"encoding":{"y2":{"field":"v2"}}},
{"transform":[{"filter":"datum.k=='L' && datum.s=='Vertical load'"}],"mark":{"type":"line","color":"black","strokeWidth":1.8}},
{"transform":[{"filter":"datum.k=='P' && datum.s=='Vertical load'"}],"mark":{"type":"circle","size":45,"stroke":"black","strokeWidth":1,"opacity":1},"encoding":{"fill":{"field":"s","type":"nominal","scale":{"domain":["Temperature","Vertical load"],"range":["black","white"]},"legend":{"title":["2700 RPM","Plunge speed 9 mm/min"],"orient":"none","legendX":113,"legendY":2,"symbolType":"M-1.8,0L-0.6,0M0.6,0L1.8,0M-0.6,0A0.6,0.6,0,1,0,0.6,0A0.6,0.6,0,1,0,-0.6,0Z","symbolOpacity":1}}}}
]},
{"encoding":{"y":{"field":"v","type":"quantitative","scale":{"domain":[300,1000],"nice":false},"axis":{"title":"Temperature, K","format":"d","orient":"right","values":[300,400,500,600,700,800,900,1000],"labelFlush":false,"labelOverlap":false,"titleAngle":270,"titleBaseline":"top","titlePadding":3}}},
"layer":[
{"transform":[{"filter":"datum.k=='L' && datum.s=='Temperature'"}],"mark":{"type":"line","color":"black","strokeWidth":1}},
{"transform":[{"filter":"datum.k=='P' && datum.s=='Temperature'"}],"mark":{"type":"circle","size":45,"stroke":"black","strokeWidth":1,"opacity":1},"encoding":{"fill":{"field":"s","type":"nominal","scale":{"domain":["Temperature","Vertical load"],"range":["black","white"]},"legend":{"title":["2700 RPM","Plunge speed 9 mm/min"],"orient":"none","legendX":113,"legendY":2,"symbolType":"M-1.8,0L-0.6,0M0.6,0L1.8,0M-0.6,0A0.6,0.6,0,1,0,0.6,0A0.6,0.6,0,1,0,-0.6,0Z","symbolOpacity":1}}}}
]}
],
"resolve":{"scale":{"y":"independent"}}
},
{"vconcat":[
{"width":232,"height":170,"data":{"name":"p6d"},
"title":{"text":"(d)","orient":"top","anchor":"start","frame":"group","offset":-20,"dx":13,"fontSize":13},
"encoding":{"x":{"field":"t","type":"quantitative","scale":{"domain":[0,50],"nice":false},"axis":{"title":"Time, sec","values":[0,5,10,15,20,25,30,35,40,45,50],"labelFlush":false,"labelOverlap":false,"titlePadding":5}}},
"layer":[
{"encoding":{"y":{"field":"v","type":"quantitative","scale":{"domain":[0,3500],"nice":false},"axis":{"title":"Vertical load, N","format":"d","values":[0,500,1000,1500,2000,2500,3000,3500],"labelFlush":false,"labelOverlap":false,"titlePadding":6}}},
"layer":[
{"transform":[{"filter":"datum.k=='D'"}],"mark":{"type":"rule","strokeDash":[3,2],"strokeWidth":1,"color":"#333"},"encoding":{"y2":{"field":"v2"}}},
{"transform":[{"filter":"datum.k=='L' && datum.s=='Vertical load'"}],"mark":{"type":"line","color":"black","strokeWidth":1.8}},
{"transform":[{"filter":"datum.k=='P' && datum.s=='Vertical load'"}],"mark":{"type":"circle","size":45,"stroke":"black","strokeWidth":1,"opacity":1},"encoding":{"fill":{"field":"s","type":"nominal","scale":{"domain":["Temperature","Vertical load"],"range":["black","white"]},"legend":{"title":["2700 RPM","Plunge speed 12 mm/min"],"orient":"none","legendX":110,"legendY":2,"symbolType":"M-1.8,0L-0.6,0M0.6,0L1.8,0M-0.6,0A0.6,0.6,0,1,0,0.6,0A0.6,0.6,0,1,0,-0.6,0Z","symbolOpacity":1}}}}
]},
{"encoding":{"y":{"field":"v","type":"quantitative","scale":{"domain":[300,1000],"nice":false},"axis":{"title":"Temperature, K","format":"d","orient":"right","values":[300,400,500,600,700,800,900,1000],"labelFlush":false,"labelOverlap":false,"titleAngle":270,"titleBaseline":"top","titlePadding":3}}},
"layer":[
{"transform":[{"filter":"datum.k=='L' && datum.s=='Temperature'"}],"mark":{"type":"line","color":"black","strokeWidth":1}},
{"transform":[{"filter":"datum.k=='P' && datum.s=='Temperature'"}],"mark":{"type":"circle","size":45,"stroke":"black","strokeWidth":1,"opacity":1},"encoding":{"fill":{"field":"s","type":"nominal","scale":{"domain":["Temperature","Vertical load"],"range":["black","white"]},"legend":{"title":["2700 RPM","Plunge speed 12 mm/min"],"orient":"none","legendX":110,"legendY":2,"symbolType":"M-1.8,0L-0.6,0M0.6,0L1.8,0M-0.6,0A0.6,0.6,0,1,0,0.6,0A0.6,0.6,0,1,0,-0.6,0Z","symbolOpacity":1}}}}
]}
],
"resolve":{"scale":{"y":"independent"}}
}
],
"title":{"text":["Variation of vertical load applied and","temperature during FSSW of Mg alloy","sheets at 2,700 rpm"],"orient":"bottom","anchor":"start","dx":50,"offset":13,"fontSize":16,"lineHeight":19.5,"fontWeight":"normal","color":"#222"},
"resolve":{"scale":{"fill":"independent"},"legend":{"fill":"independent"}}
}
],
"spacing":70,
"bounds":"flush",
"title":{"text":"Fig. 6","orient":"bottom","anchor":"start","dx":-18,"offset":-55,"fontSize":16,"fontWeight":"bold","color":"#222"},
"resolve":{"scale":{"fill":"independent"},"legend":{"fill":"independent"}}
}
],
"spacing": 35,
"bounds": "full",
"resolve": {"scale": {"fill": "independent"}, "legend": {"fill": "independent"}},
"config": {
"font": "Liberation Serif",
"view": {"stroke": "#1a1a1a", "strokeWidth": 1},
"axis": {"grid": false, "domainColor": "#1a1a1a", "tickColor": "#1a1a1a", "labelColor": "#3a3a3a", "titleColor": "#3a3a3a", "labelFontSize": 11, "titleFontSize": 14, "titleFontWeight": "normal", "tickSize": -4, "labelPadding": 3, "labelFont": "Liberation Serif", "titleFont": "Liberation Serif"},
"legend": {"strokeColor": "#1a1a1a", "strokeWidth": 1, "fillColor": "white", "padding": 5, "titleFontSize": 9, "titleFontWeight": "normal", "titleColor": "#222", "titleLineHeight": 11, "titlePadding": 2, "labelFontSize": 9, "labelColor": "#222", "symbolSize": 100, "symbolStrokeColor": "black", "symbolStrokeWidth": 1, "symbolOffset": 7, "labelOffset": 14, "rowPadding": 1, "titleFont": "Liberation Serif", "labelFont": "Liberation Serif"},
"title": {"font": "Liberation Serif", "fontWeight": "normal", "color": "#222"}
}
}
